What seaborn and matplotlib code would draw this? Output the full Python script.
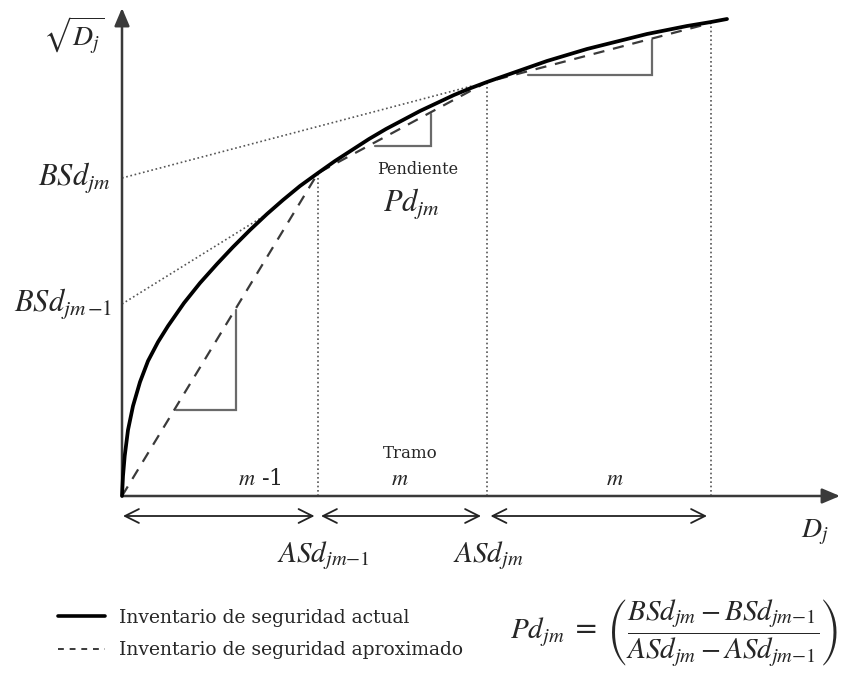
import matplotlib
matplotlib.use("Agg")
import matplotlib.pyplot as plt
from matplotlib.lines import Line2D
import seaborn as sns
import pandas as pd

# ---- data (conceptual units) ----
curve_D = [0, 0.01, 0.027, 0.06, 0.11, 0.18, 0.26, 0.36, 0.46, 0.62, 0.78, 0.95,
           1.11, 1.28, 1.45, 1.61, 1.78, 1.96, 2.13, 2.30, 2.47, 2.64, 2.81, 2.98,
           3.15, 3.32, 3.49, 3.65, 3.85, 4.05, 4.25, 4.45, 4.65, 4.85, 5.05, 5.25,
           5.45, 5.65, 5.89, 6.05]
curve_sqrtD = [0, 0.20, 0.40, 0.66, 0.90, 1.14, 1.35, 1.54, 1.70, 1.93, 2.13, 2.32,
               2.49, 2.66, 2.82, 2.96, 3.10, 3.23, 3.35, 3.46, 3.57, 3.67, 3.76, 3.85,
               3.93, 4.01, 4.08, 4.14, 4.21, 4.28, 4.35, 4.41, 4.47, 4.52, 4.57, 4.62,
               4.66, 4.70, 4.74, 4.77]
break_D = [0, 1.96, 3.65, 5.89]          # ASd breakpoints
break_sqrtD = [0, 3.23, 4.14, 4.73]      # approximated values at breakpoints
BSd_jm = 3.18
BSd_jm1 = 1.92
tan_upper_end = (3.50, 4.10)
tan_lower_end = (1.42, 2.80)
# slope triangles: (x_left, x_right, y_bottom, y_top)
tri_x1 = [0.54, 2.53, 4.06]
tri_x2 = [1.14, 3.09, 5.30]
tri_y1 = [0.86, 3.50, 4.21]
tri_y2 = [1.86, 3.82, 4.56]
segment_labels = [r"$m$ -1", r"$m$", r"$m$"]
legend_labels = ["Inventario de seguridad actual", "Inventario de seguridad aproximado"]

sns.set_theme(style="white")
plt.rcParams["font.family"] = ["DejaVu Serif"]
plt.rcParams["mathtext.fontset"] = "stix"

fig = plt.figure(figsize=(8.47, 6.74), dpi=100)
ax = fig.add_axes([0, 0, 1, 1])
ax.set_xlim(-1.22, 7.25)
ax.set_ylim(-1.78, 4.96)
ax.axis("off")

df_curve = pd.DataFrame({"D": curve_D, "S": curve_sqrtD})
df_appr = pd.DataFrame({"D": break_D, "S": break_sqrtD})
sns.lineplot(data=df_curve, x="D", y="S", ax=ax, color="black", lw=2.7,
             estimator=None, sort=False, zorder=5)
sns.lineplot(data=df_appr, x="D", y="S", ax=ax, color="#3a3a3a", lw=1.6,
             estimator=None, sort=False, zorder=4)
ax.lines[-1].set_dashes((5, 4))
for ln in ax.lines:
    ln.set_solid_joinstyle("round")

dot = dict(color="#555555", lw=1.2, ls=(0, (1, 1.6)), zorder=2)
# vertical dotted lines
for xd, yd in zip(break_D[1:], break_sqrtD[1:]):
    ax.plot([xd, xd], [0, yd], **dot)
# tangent dotted lines
ax.plot([0, tan_upper_end[0]], [BSd_jm, tan_upper_end[1]], **dot)
ax.plot([0, tan_lower_end[0]], [BSd_jm1, tan_lower_end[1]], **dot)

# slope triangles
for x1, x2, y1, y2 in zip(tri_x1, tri_x2, tri_y1, tri_y2):
    ax.plot([x1, x2, x2], [y1, y1, y2], color="#6a6a6a", lw=1.6, zorder=3,
            solid_joinstyle="miter")

# axes arrows
axp = dict(arrowstyle="-|>,head_length=0.9,head_width=0.38", mutation_scale=12,
           lw=1.8, color="#3a3a3a", shrinkA=0, shrinkB=0)
ax.annotate("", xy=(7.18, 0), xytext=(0, 0), arrowprops=axp)
ax.annotate("", xy=(0, 4.88), xytext=(0, 0), arrowprops=axp)

# segment double arrows
arr_y = -0.20
seg_x1 = [0.01, 1.99, 3.685]
seg_x2 = [1.925, 3.59, 5.85]
for a, b in zip(seg_x1, seg_x2):
    ax.annotate("", xy=(b, arr_y), xytext=(a, arr_y),
                arrowprops=dict(arrowstyle="<->,head_length=1.0,head_width=0.5",
                                mutation_scale=10, lw=1.3, color="#222222",
                                shrinkA=0, shrinkB=0))

# labels
ax.text(-0.48, 4.61, r"$\sqrt{D_j}$", fontsize=20, ha="center", va="center")
ax.text(-0.12, BSd_jm, r"$BSd_{jm}$", fontsize=22, ha="right", va="center")
ax.text(-0.10, BSd_jm1, r"$BSd_{jm\,\mathrm{-1}}$", fontsize=22, ha="right", va="center")
ax.text(2.96, 3.27, "Pendiente", fontsize=11.5, ha="center", va="center")
ax.text(2.89, 2.91, r"$Pd_{jm}$", fontsize=22, ha="center", va="center")
ax.text(2.88, 0.43, "Tramo", fontsize=12, ha="center", va="center")
seg_lab_x = [1.38, 2.78, 4.93]
for xl, lab in zip(seg_lab_x, segment_labels):
    ax.text(xl, 0.17, lab, fontsize=16, ha="center", va="center")
ax.text(2.01, -0.60, r"$ASd_{jm\mathrm{-1}}$", fontsize=21, ha="center", va="center")
ax.text(3.66, -0.60, r"$ASd_{jm}$", fontsize=21, ha="center", va="center")
ax.text(6.93, -0.36, r"$D_j$", fontsize=20, ha="center", va="center")

# legend
handles = [Line2D([], [], color="black", lw=2.6),
           Line2D([], [], color="#3a3a3a", lw=1.4, dashes=(3, 3))]
ax.legend(handles, legend_labels, loc="upper left",
          bbox_to_anchor=(58 / 847, 1 - 609 / 674), bbox_transform=fig.transFigure,
          frameon=False, fontsize=13.5, handlelength=2.5, handletextpad=0.75,
          labelspacing=0.75, borderpad=0, borderaxespad=0)

# formula
ax.text(3.88, -1.37,
        r"$Pd_{jm}$ = $\left(\dfrac{BSd_{jm}-BSd_{jm\mathrm{-1}}}{ASd_{jm}-ASd_{jm\mathrm{-1}}}\right)$",
        fontsize=21, ha="left", va="center")

fig.savefig("out.png", dpi=100)
